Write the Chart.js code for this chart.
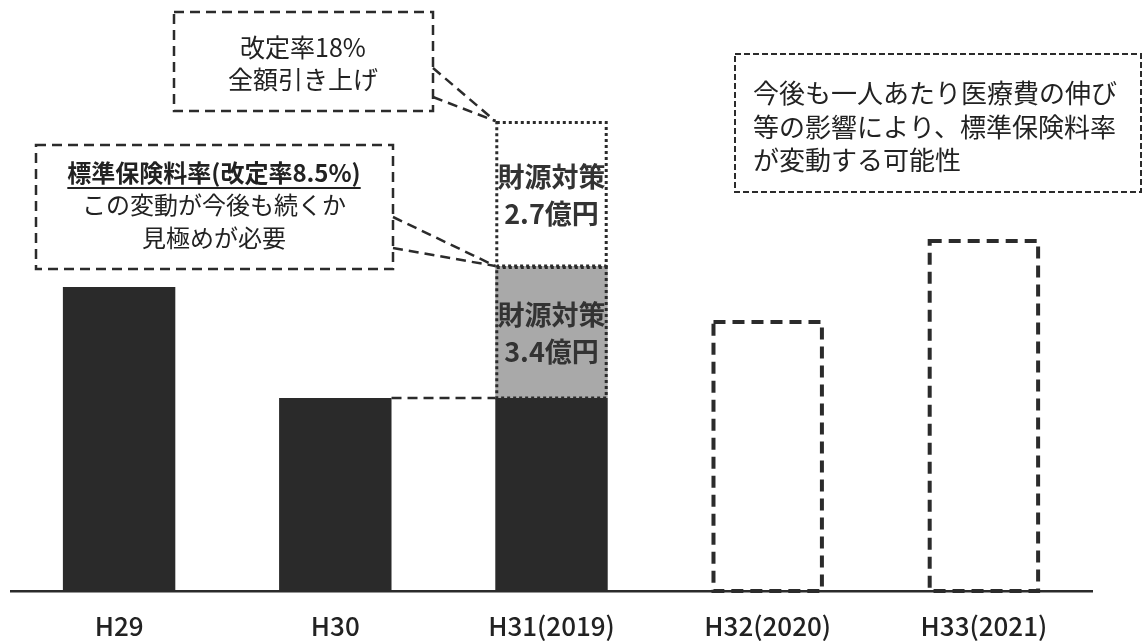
<!DOCTYPE html>
<html>
<head>
<meta charset="utf-8">
<script src="https://cdn.jsdelivr.net/npm/chart.js@4.4.0/dist/chart.umd.min.js"></script>
<style>
  html, body { margin: 0; padding: 0; background: #fff; }
</style>
</head>
<body>
<canvas id="barChart" width="1145" height="643"></canvas>
<script>
// data (relative heights)
const years = ["H29", "H30", "H31(2019)", "H32(2020)", "H33(2021)"];
const actual = [304, 193, 193, null, null];
const fundA = [null, null, 132, null, null];     // grey part
const fundB = [null, null, 145, null, null];     // white dotted part
const outlook = [null, null, null, 271, 352];    // dashed outlook bars
const fundALabel = ["財源対策", "3.4億円"];
const fundBLabel = ["財源対策", "2.7億円"];

const jpFont = '"Noto Sans CJK JP", "Noto Sans", sans-serif';
const ink = "#2b2b2b";

// dashed outlines for bars (bar borders in Chart.js can't be dashed)
const outlinePlugin = {
  id: "outlines",
  afterDatasetsDraw(chart) {
    const ctx = chart.ctx;
    chart.data.datasets.forEach((ds, i) => {
      if (!ds.outlineDash) return;
      chart.getDatasetMeta(i).data.forEach((bar, j) => {
        if (ds.data[j] == null) return;
        const p = bar.getProps(["x", "y", "base", "width"], true);
        ctx.save();
        ctx.setLineDash(ds.outlineDash);
        ctx.lineWidth = ds.outlineWidth;
        ctx.strokeStyle = ink;
        const half = ds.outlineWidth / 2;
        ctx.strokeRect(p.x - p.width / 2 + half, p.y + half, p.width - ds.outlineWidth, p.base - p.y - half);
        ctx.restore();
      });
      if (ds.segLabel) {
        const bar = chart.getDatasetMeta(i).data[2];
        const p = bar.getProps(["x", "y", "base"], true);
        const mid = (p.y + p.base) / 2;
        ctx.save();
        ctx.fillStyle = "#333";
        ctx.font = "bold 27px " + jpFont;
        ctx.textAlign = "center";
        ctx.textBaseline = "middle";
        ctx.fillText(ds.segLabel[0], p.x, mid - 17);
        ctx.fillText(ds.segLabel[1], p.x, mid + 20);
        ctx.restore();
      }
    });
  }
};

const dashedBox = (ctx, x, y, w, h) => {
  ctx.save();
  ctx.setLineDash([10, 6]);
  ctx.lineWidth = 2.5;
  ctx.strokeStyle = ink;
  ctx.strokeRect(x, y, w, h);
  ctx.restore();
};

const dashedLine = (ctx, x1, y1, x2, y2) => {
  ctx.save();
  ctx.setLineDash([10, 6]);
  ctx.lineWidth = 2.5;
  ctx.strokeStyle = ink;
  ctx.beginPath();
  ctx.moveTo(x1, y1);
  ctx.lineTo(x2, y2);
  ctx.stroke();
  ctx.restore();
};

const notesPlugin = {
  id: "notes",
  afterDraw(chart) {
    const ctx = chart.ctx;
    const h30 = chart.getDatasetMeta(0).data[1].getProps(["x", "y", "width"], true);
    const h31 = chart.getDatasetMeta(0).data[2].getProps(["x", "y", "width"], true);
    const grey = chart.getDatasetMeta(1).data[2].getProps(["x", "y", "width"], true);
    const white = chart.getDatasetMeta(2).data[2].getProps(["x", "y", "width"], true);

    // H30 -> H31 level line
    dashedLine(ctx, h30.x + h30.width / 2, h30.y, h31.x - h31.width / 2, h31.y);

    ctx.save();
    ctx.fillStyle = "#222";
    ctx.textBaseline = "middle";

    // box 1
    dashedBox(ctx, 174, 12, 259, 99);
    ctx.font = "25px " + jpFont;
    ctx.textAlign = "center";
    ctx.fillText("改定率18%", 303, 47);
    ctx.fillText("全額引き上げ", 303, 79);
    dashedLine(ctx, 433, 68, white.x - white.width / 2, white.y);
    dashedLine(ctx, 433, 97, white.x - white.width / 2, white.y);

    // box 2
    dashedBox(ctx, 36, 145, 357, 124);
    ctx.font = "bold 24px " + jpFont;
    ctx.fillText("標準保険料率(改定率8.5%)", 214, 173);
    const w = ctx.measureText("標準保険料率(改定率8.5%)").width;
    ctx.fillRect(214 - w / 2, 187, w, 2);
    ctx.font = "24px " + jpFont;
    ctx.fillText("この変動が今後も続くか", 214, 205);
    ctx.fillText("見極めが必要", 214, 238);
    dashedLine(ctx, 393, 217, grey.x - grey.width / 2, grey.y);
    dashedLine(ctx, 393, 248, grey.x - grey.width / 2, grey.y);

    // box 3
    ctx.save();
    ctx.setLineDash([6, 3]);
    ctx.lineWidth = 2;
    ctx.strokeStyle = ink;
    ctx.strokeRect(735, 54, 406, 138);
    ctx.restore();
    ctx.font = "26px " + jpFont;
    ctx.textAlign = "left";
    ctx.fillText("今後も一人あたり医療費の伸び", 753, 93);
    ctx.fillText("等の影響により、標準保険料率", 753, 127);
    ctx.fillText("が変動する可能性", 753, 160);
    ctx.restore();
  }
};

const ctx = document.getElementById("barChart").getContext("2d");

new Chart(ctx, {
  type: "bar",
  data: {
    labels: years,
    datasets: [
      { label: "実績", data: actual, backgroundColor: "#2a2a2a", stack: "s" },
      { label: "財源対策3.4億円", data: fundA, backgroundColor: "#a9a9a9", stack: "s",
        outlineDash: [3, 3], outlineWidth: 3, segLabel: fundALabel },
      { label: "財源対策2.7億円", data: fundB, backgroundColor: "#ffffff", stack: "s",
        outlineDash: [3, 3], outlineWidth: 3, segLabel: fundBLabel },
      { label: "見通し", data: outlook, backgroundColor: "rgba(0,0,0,0)", stack: "s",
        outlineDash: [12, 7], outlineWidth: 4 }
    ]
  },
  options: {
    responsive: false,
    animation: false,
    devicePixelRatio: 1,
    layout: { padding: { top: 91, left: 11, right: 53, bottom: 0 } },
    datasets: { bar: { barPercentage: 0.52, categoryPercentage: 1.0 } },
    plugins: { legend: { display: false }, tooltip: { enabled: false } },
    scales: {
      x: {
        stacked: true,
        grid: { display: false, drawTicks: false },
        border: { display: true, color: ink, width: 2.5 },
        ticks: { color: "#222", padding: 20, font: { family: jpFont, size: 26, weight: 500 } },
        afterFit: (scale) => { scale.height = 52; }
      },
      y: {
        stacked: true,
        display: false,
        min: 0,
        max: 500
      }
    }
  },
  plugins: [outlinePlugin, notesPlugin]
});
</script>
</body>
</html>
